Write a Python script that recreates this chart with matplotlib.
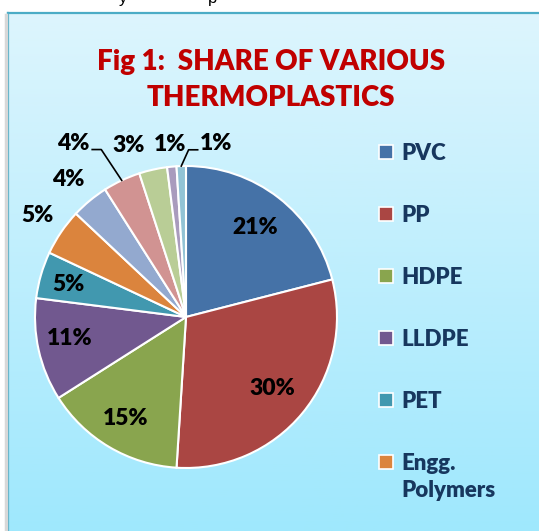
import numpy as np
import matplotlib.pyplot as plt
from matplotlib.patches import Rectangle
from matplotlib.lines import Line2D

plt.rcParams['font.family'] = ['Lato', 'DejaVu Sans']

# Dados do gráfico
values = [21, 30, 15, 11, 5, 5, 4, 4, 3, 1, 1]
pct_labels = ['21%', '30%', '15%', '11%', '5%', '5%', '4%', '4%', '3%', '1%', '1%']
legend_labels = ['PVC', 'PP', 'HDPE', 'LLDPE', 'PET', 'Engg.\nPolymers']
colors = ['#4572A7', '#AA4643', '#89A54E', '#71588F', '#4198AF', '#DB843D',
          '#93A9CF', '#D19392', '#B9CD96', '#A99BBD', '#92C3D5']

# posição dos rótulos (raio relativo, deslocamento angular, linha guia)
lab_r = [0.75, 0.74, 0.78, 0.78, 0.81, 1.19, 1.20, 1.37, 1.20, 1.15, 1.165]
lab_dang = [0, 0, 0, -2.3, 1, 0, 1, 7.8, 6, 0, -11.8]
leader = [False] * 7 + [True, False, False, True]

W, H = 539, 531
fig = plt.figure(figsize=(W / 100, H / 100), dpi=100)
fig.patch.set_facecolor('white')

# fundo com gradiente
bg = fig.add_axes([8 / W, 0, 1 - 8 / W, (H - 13) / H])
top = np.array([0xDD, 0xF5, 0xFD]) / 255
bot = np.array([0x9F, 0xE8, 0xFD]) / 255
t = np.linspace(0, 1, 256)[:, None]
grad = (top[None, :] * (1 - t) + bot[None, :] * t)[:, None, :]
bg.imshow(grad, aspect='auto', extent=[0, 1, 0, 1])
bg.axis('off')

# borda do quadro
fig.add_artist(Line2D([8 / W, 1], [1 - 13 / H, 1 - 13 / H], color='#4BACC6', lw=1.6))
fig.add_artist(Line2D([8 / W, 8 / W], [0, 1 - 13 / H], color='#4BACC6', lw=1.6))
fig.add_artist(Line2D([5.5 / W, 5.5 / W], [0, 1 - 15 / H], color='#d8d8d8', lw=2.5))

# texto cortado do documento acima
fig.text(123 / W, 1 - 3 / H, 'y', fontsize=12, va='baseline', ha='center', color='black',
         family='Liberation Sans')
fig.text(213 / W, 1 - 3 / H, 'p', fontsize=12, va='baseline', ha='center', color='black',
         family='Liberation Sans')

# título
fig.text(271 / W, 1 - 80 / H, 'Fig 1:  SHARE OF VARIOUS\nTHERMOPLASTICS', ha='center',
         va='center', fontsize=20, fontweight='heavy', color='#C00000', linespacing=1.5)

# pizza
cx, cy, r = 186, 317, 151
ax = fig.add_axes([(cx - r) / W, (H - cy - r) / H, 2 * r / W, 2 * r / H])
wedges, _ = ax.pie(values, colors=colors, startangle=90, counterclock=False,
                   wedgeprops=dict(edgecolor='white', linewidth=1.5))
ax.set_xlim(-1, 1)
ax.set_ylim(-1, 1)
ax.axis('off')

for i, w in enumerate(wedges):
    mid = (w.theta1 + w.theta2) / 2
    ang = np.deg2rad(mid + lab_dang[i])
    tx, ty = lab_r[i] * np.cos(ang), lab_r[i] * np.sin(ang)
    ax.text(tx, ty, pct_labels[i], ha='center', va='center', fontsize=16.5,
            fontweight='heavy', color='black', clip_on=False)
    if leader[i]:
        px, py = np.cos(np.deg2rad(mid)), np.sin(np.deg2rad(mid))
        sgn = 1 if px > tx else -1
        ey = ty - 0.04
        ax.plot([px, tx + sgn * 0.185, tx + sgn * 0.125], [py, ey, ey], color='black',
                lw=1.2, clip_on=False)

# legenda
y0 = 152
for i, name in enumerate(legend_labels):
    yc = 1 - (y0 + i * 62) / H
    fig.add_artist(Rectangle((379 / W, yc - 7 / H), 14 / W, 14 / H, facecolor=colors[i],
                             edgecolor='white', lw=1.2))
    fig.text(401 / W, yc + 8.5 / H, name, ha='left', va='top', fontsize=16,
             fontweight='heavy', color='#17375E', linespacing=1.35)

fig.savefig('out.png', dpi=100)
